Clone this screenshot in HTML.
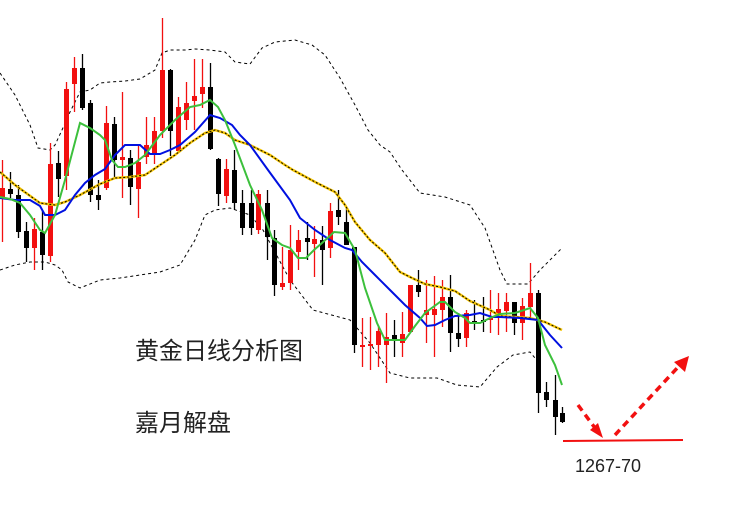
<!DOCTYPE html>
<html><head><meta charset="utf-8"><style>
body{margin:0;background:#fff;width:750px;height:515px;overflow:hidden}
svg{display:block}
text{font-family:"Liberation Sans","Noto Sans CJK SC",sans-serif;fill:#222}
</style></head><body>
<svg id="s" width="750" height="515" viewBox="0 0 750 515" xmlns="http://www.w3.org/2000/svg">
<g id="bands" fill="none" stroke="#000" stroke-width="1" stroke-dasharray="3,3">
<polyline points="0,73 15,95 30,125 38,148 50,150 55,145 62,130 70,112 80,92 90,90 100,83 110,82 125,81 140,79 155,70 162,53 170,50 185,50 195,49 210,50 225,52 235,62 250,64 262,48 275,42 295,40 312,45 325,55 340,78 355,105 368,130 380,145 390,152 402,170 420,193 445,197 470,205 485,228 500,270 507,284 528,284 540,270 562,248"/>
<polyline points="0,270 15,265 30,262 45,262 55,265 62,270 68,282 80,288 100,280 120,278 140,275 160,272 180,265 195,240 205,215 215,210 230,208 250,215 263,230 290,280 313,310 350,320 370,343 390,373 410,378 437,378 457,385 480,387 497,367 513,355 530,352 535,358"/>
</g>
<g id="c"></g>
<polyline fill="none" stroke="#f5c400" stroke-width="2.5" points="0,172 15,185 40,203 55,205 65,202 80,195 100,184 115,178 130,177 145,175 160,165 175,155 190,143 205,133 215,130 225,133 235,140 250,145 270,155 285,165 293,170 317,183 335,192 345,205 355,222 370,240 385,253 400,272 412,278 425,284 440,287 455,291 470,301 490,310 500,316 530,318 545,322 562,330"/>
<polyline fill="none" stroke="#000" stroke-width="1" stroke-dasharray="2,2" points="0,172 15,185 40,203 55,205 65,202 80,195 100,184 115,178 130,177 145,175 160,165 175,155 190,143 205,133 215,130 225,133 235,140 250,145 270,155 285,165 293,170 317,183 335,192 345,205 355,222 370,240 385,253 400,272 412,278 425,284 440,287 455,291 470,301 490,310 500,316 530,318 545,322 562,330"/>
<polyline fill="none" stroke="#0010e0" stroke-width="2" points="0,198 15,200 30,200 40,206 45,215 55,215 65,210 75,195 85,183 95,175 105,169 115,155 125,145 140,145 150,154 160,154 170,150 180,145 195,132 210,115 220,118 232,125 240,135 250,145 268,170 290,200 300,218 315,230 330,240 345,248 352,250 362,262 375,275 390,290 405,305 420,318 427,326 435,325 445,320 455,316 470,315 480,313 492,317 500,317 520,318 538,320 550,335 562,348"/>
<polyline fill="none" stroke="#3cc03c" stroke-width="2" points="0,197 10,199 20,203 30,215 40,230 45,233 55,215 65,180 80,123 90,128 100,135 105,140 112,160 118,167 125,167 135,163 145,155 160,135 175,120 190,107 200,105 210,100 218,107 225,120 235,145 250,185 262,210 272,238 282,245 290,248 298,258 306,258 314,250 322,243 334,232 345,233 355,250 365,288 377,323 385,340 395,340 405,340 415,326 425,313 440,302 445,302 455,312 465,318 470,323 480,323 490,318 500,314 515,313 530,308 538,318 545,345 555,365 562,385"/>
<line x1="563" y1="441" x2="683" y2="440" stroke="#f21010" stroke-width="2"/>
<g stroke="#f21010" stroke-width="3.5" stroke-dasharray="7,5" fill="none">
<line x1="578" y1="405" x2="595" y2="428"/>
<line x1="615" y1="435" x2="680" y2="365"/>
</g>
<polygon points="603,438 590,430 598,423" fill="#f21010"/>
<polygon points="689,356 685,372 674,362" fill="#f21010"/>
<text x="135" y="359" font-size="24">黄金日线分析图</text>
<text x="135" y="431" font-size="24">嘉月解盘</text>
<text x="575" y="472" font-size="18">1267-70</text>
</svg>
<script>
var d=[[2,188,198,160,242,1],[10,189,194,172,198,0],[18,195,232,185,238,0],[26,231,248,222,262,0],[34,229,248,218,270,1],[42,232,255,210,270,0],[50,164,256,143,262,1],[58,163,179,151,197,0],[66,89,176,82,190,1],[74,68,84,57,112,1],[82,68,108,54,110,0],[90,103,195,100,202,0],[98,195,200,180,210,0],[106,123,188,106,190,1],[114,124,160,117,178,0],[122,157,160,92,198,1],[130,158,187,150,205,0],[138,162,189,146,218,1],[146,145,157,117,164,1],[154,131,153,117,164,1],[162,70,131,18,138,1],[170,70,131,69,156,0],[178,107,151,97,151,1],[186,103,120,82,130,1],[194,96,101,59,130,1],[202,87,94,59,108,1],[210,87,149,63,150,0],[218,159,194,158,206,0],[226,169,196,159,203,1],[234,170,203,150,210,0],[242,203,228,190,235,0],[251,203,228,190,235,0],[258,194,230,190,234,1],[267,203,237,190,260,0],[274,238,285,230,296,0],[282,283,287,247,290,1],[290,250,283,225,290,1],[298,240,252,230,270,1],[307,238,242,222,260,0],[314,239,244,226,277,1],[322,240,250,226,285,0],[330,211,248,203,258,1],[338,210,217,190,225,0],[346,222,245,207,245,0],[354,247,345,247,353,0],[362,345,347,318,367,1],[370,344,346,317,370,1],[378,331,345,327,367,1],[386,337,345,313,383,1],[394,335,339,320,357,0],[402,334,343,312,357,1],[410,285,332,285,332,1],[418,285,292,270,297,0],[426,310,315,280,343,1],[434,309,315,276,357,1],[442,297,310,280,327,1],[450,297,333,275,352,0],[458,333,339,313,347,0],[466,313,338,310,347,1],[474,321,322,300,330,0],[483,320,322,297,332,0],[490,318,320,290,333,1],[498,309,316,293,335,1],[506,302,311,293,332,1],[514,302,323,302,335,0],[522,306,323,298,340,1],[530,293,307,263,317,1],[538,293,393,290,413,0],[546,392,400,382,407,0],[555,400,417,375,435,0],[562,413,422,407,423,0]];
var g=document.getElementById('c'),h='';
d.forEach(function(c){var col=c[5]?'#f21010':'#000';var t=Math.min(c[1],c[2]),b=Math.max(c[1],c[2]);
h+='<line x1="'+(c[0]+.5)+'" y1="'+c[3]+'" x2="'+(c[0]+.5)+'" y2="'+c[4]+'" stroke="'+col+'" stroke-width="1.3"/>';
h+='<rect x="'+(c[0]-2)+'" y="'+t+'" width="5" height="'+Math.max(2,b-t)+'" fill="'+col+'"/>';});
g.innerHTML=h;
</script>
</body></html>
